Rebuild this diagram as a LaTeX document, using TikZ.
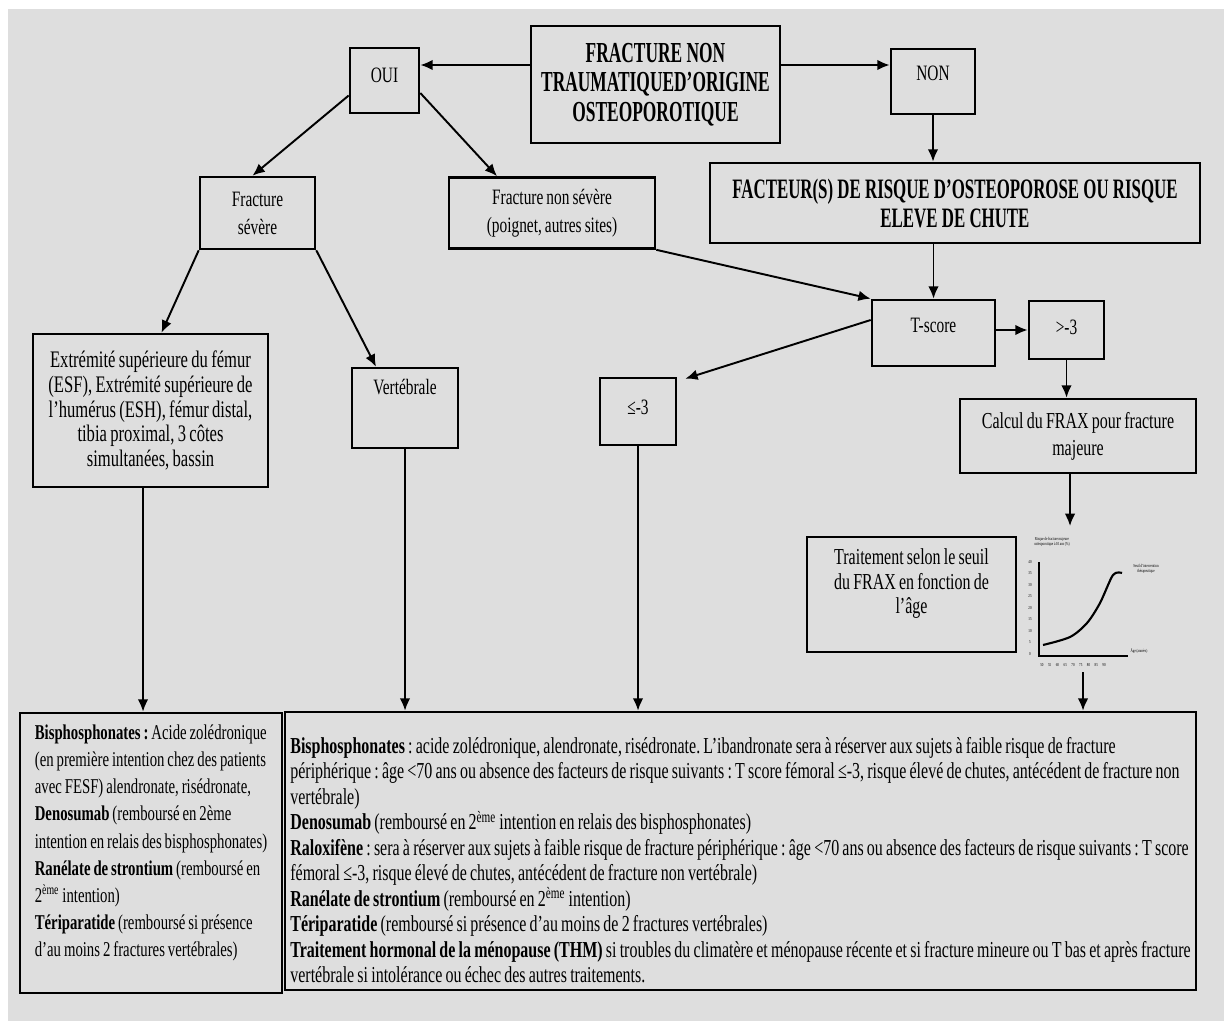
\documentclass[tikz,border=0pt]{standalone}
\usepackage{fontspec}
\setmainfont{Liberation Serif}[FakeStretch=0.7, WordSpace=0.8]
\newfontfamily\narrowfont{Liberation Serif}[FakeStretch=0.6]
\usetikzlibrary{arrows.meta}
\frenchspacing

\definecolor{bggray}{HTML}{DEDEDE}

\tikzset{
    blk/.style={draw, line width=1.5pt, inner sep=2pt, align=center,
        font=\fontsize{12.5}{16}\selectfont},
    arr/.style={-{Latex[length=7pt,width=6pt]}, line width=1.1pt},
    chtxt/.style={inner sep=0pt, align=center, font=\fontsize{2.6}{3}\selectfont},
}

\begin{document}
\begin{tikzpicture}[x=0.02cm, y=-0.02cm]
    \useasboundingbox (0,0) rectangle (1224,1021);
    \fill[bggray] (8,9) rectangle (1224,1021);

    %% Top of the tree

    % Question
    \node[blk, minimum width=4.98cm, minimum height=2.34cm,
        font={\narrowfont\bfseries\fontsize{16.5}{16.7}\selectfont}] (frac) at (655.5,84.5)
        {FRACTURE NON\\TRAUMATIQUED’ORIGINE\\OSTEOPOROTIQUE};

    % Answers
    \node[blk, minimum width=1.38cm, minimum height=1.3cm, text depth=6pt] (oui) at (384.5,80.5) {OUI};
    \node[blk, minimum width=1.68cm, minimum height=1.3cm, text depth=9.5pt] (non) at (933,81.5) {NON};

    \draw[arr] ([yshift=0.39cm]frac.west) -- ([yshift=0.39cm]frac.west -| oui.east);
    \draw[arr] ([yshift=0.39cm]frac.east) -- ([yshift=0.39cm]frac.east -| non.west);

    %% Branch OUI

    \node[blk, minimum width=2.3cm, minimum height=1.44cm] (fsev) at (257.5,213) {Fracture\\sévère};
    \node[blk, minimum width=4.12cm, minimum height=1.42cm] (fnsev) at (552,213)
        {Fracture non sévère\\(poignet, autres sites)};

    \draw[arr] ([yshift=-0.3cm]oui.west) -- ([xshift=-0.1cm]fsev.north);
    \draw[arr] ([yshift=-0.25cm]oui.east) -- ([xshift=-1.1cm]fnsev.north);

    % Sites of the severe fracture
    \node[blk, minimum width=4.7cm, minimum height=3.06cm,
        font=\fontsize{13.5}{14.2}\selectfont] (esf) at (150.5,410.5)
        {Extrémité supérieure du fémur\\(ESF), Extrémité supérieure de\\l’humérus (ESH), fémur distal,\\tibia proximal, 3 côtes\\simultanées, bassin};
    \node[blk, minimum width=2.12cm, minimum height=1.6cm, text depth=24pt] (vert) at (405,408) {Vertébrale};

    \draw[arr] (fsev.south west) -- ([xshift=0.22cm]esf.north);
    \draw[arr] (fsev.south east) -- ([xshift=-0.58cm]vert.north);

    %% Branch NON

    \node[blk, minimum width=9.8cm, minimum height=1.6cm,
        font={\narrowfont\bfseries\fontsize{16}{16.5}\selectfont}] (facteur) at (955,203)
        {FACTEUR(S) DE RISQUE D’OSTEOPOROSE OU RISQUE\\ELEVE DE CHUTE};
    \draw[arr] (non.south) -- (non.south |- facteur.north);

    % T-score
    \node[blk, minimum width=2.46cm, minimum height=1.32cm, text depth=9pt] (tscore) at (933.5,333) {T-score};
    \node[blk, minimum width=1.5cm, minimum height=1.16cm, text depth=3pt] (gt) at (1066.5,330) {>-3};
    \node[blk, minimum width=1.52cm, minimum height=1.34cm, text depth=5pt] (le) at (638,411.5) {≤-3};

    \draw[arr] (tscore.north |- facteur.south) -- (tscore.north);
    \draw[arr] (fnsev.south east) -- (tscore.north west);
    \draw[arr] (gt.west -| tscore.east) -- (gt.west);
    \draw[arr] ([yshift=0.26cm]tscore.west) -- ([xshift=0.16cm,yshift=-0.04cm]le.north east);

    % FRAX
    \node[blk, minimum width=4.72cm, minimum height=1.48cm,
        font=\fontsize{13}{15.3}\selectfont] (frax) at (1078,436)
        {Calcul du FRAX pour fracture\\majeure};
    \node[blk, minimum width=4.18cm, minimum height=2.3cm, text depth=15pt,
        font=\fontsize{13}{14}\selectfont] (trait) at (911.5,594.5)
        {Traitement selon le seuil\\du FRAX en fonction de\\l’âge};
    \draw[arr] (gt.south) -- (gt.south |- frax.north);

    % Threshold curve
    \coordinate (chtop) at (1070,526);
    \coordinate (chbot) at (1083,672);
    \draw[arr] (frax.south -| chtop) -- (chtop);
    \draw[line width=0.8pt] (1039,562) -- (1039,656) -- (1128,656);
    \draw[line width=1.2pt] plot[smooth] coordinates {(1043,645) (1070,637) (1087,623) (1100,603) (1113,575) (1122,573)};
    \node[chtxt] (chy) at (1052,542) {Risque de fracture majeure\\ostéoporotique à 10 ans (\%)};
    \node[chtxt] (chs) at (1146,569) {Seuil d’intervention\\thérapeutique};
    \node[chtxt] (cha) at (1139,651) {Âge (années)};
    \node[chtxt, anchor=west] (chx) at (1040,665) {50\enspace\enspace 55\enspace\enspace 60\enspace\enspace 65\enspace\enspace 70\enspace\enspace 75\enspace\enspace 80\enspace\enspace 85\enspace\enspace 90};
    \node[chtxt, anchor=north, font=\fontsize{2.6}{6.52}\selectfont] (chyt) at (1030,560)
        {40\\35\\30\\25\\20\\15\\10\\5\\0};

    %% Treatments

    \node[blk, minimum width=5.24cm, minimum height=5.6cm, align=left, text depth=14pt,
        font=\fontsize{12}{15.5}\selectfont] (left) at (151,853)
        {\textbf{Bisphosphonates :} Acide zolédronique\\(en première intention chez des patients\\avec FESF) alendronate, risédronate,\\\textbf{Denosumab} (remboursé en 2ème\\intention en relais des bisphosphonates)\\\textbf{Ranélate de strontium} (remboursé en\\2\textsuperscript{ème} intention)\\\textbf{Tériparatide} (remboursé si présence\\d’au moins 2 fractures vertébrales)};

    \node[blk, minimum width=18.22cm, minimum height=5.56cm, align=left, text height=150pt,
        font=\fontsize{13}{14.5}\selectfont] (big) at (740.5,851)
        {\textbf{Bisphosphonates} : acide zolédronique, alendronate, risédronate. L’ibandronate sera à réserver aux sujets à faible risque de fracture\\
        périphérique : âge <70 ans ou absence des facteurs de risque suivants : T score fémoral ≤-3, risque élevé de chutes, antécédent de fracture non\\
        vertébrale)\\
        \textbf{Denosumab} (remboursé en 2\textsuperscript{ème} intention en relais des bisphosphonates)\\
        \textbf{Raloxifène} : sera à réserver aux sujets à faible risque de fracture périphérique : âge <70 ans ou absence des facteurs de risque suivants : T score\\
        fémoral ≤-3, risque élevé de chutes, antécédent de fracture non vertébrale)\\
        \textbf{Ranélate de strontium} (remboursé en 2\textsuperscript{ème} intention)\\
        \textbf{Tériparatide} (remboursé si présence d’au moins de 2 fractures vertébrales)\\
        \textbf{Traitement hormonal de la ménopause (THM)} si troubles du climatère et ménopause récente et si fracture mineure ou T bas et après fracture\\
        vertébrale si intolérance ou échec des autres traitements.};

    \draw[arr] ([xshift=-0.15cm]esf.south) -- ([xshift=-0.15cm]esf.south |- left.north);
    \draw[arr] (vert.south) -- (vert.south |- big.north);
    \draw[arr] (le.south) -- (le.south |- big.north);
    \draw[arr] (chbot) -- (chbot |- big.north);

\end{tikzpicture}
\end{document}
